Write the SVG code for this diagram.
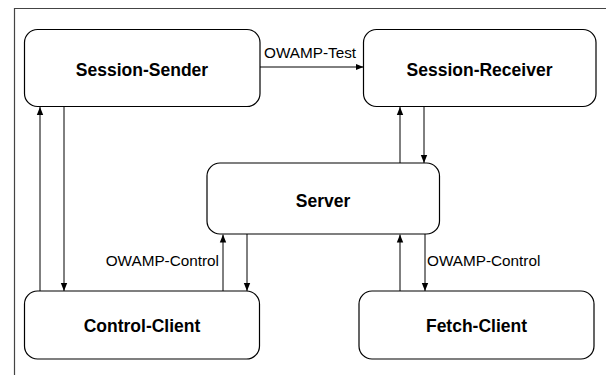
<svg xmlns="http://www.w3.org/2000/svg" width="606" height="375" viewBox="0 0 606 375">
<defs>
<marker id="ah" viewBox="0 0 8 8" refX="8" refY="4" markerWidth="8" markerHeight="8" markerUnits="userSpaceOnUse" orient="auto">
<path d="M0,0.8 L8,4 L0,7.2 Z" fill="#000"/>
</marker>
<style>
.node rect{fill:#fff;stroke:#000;stroke-width:1.2}
.node text{font-family:"Liberation Sans",Arial,sans-serif;font-weight:bold;font-size:17.5px;text-anchor:middle;fill:#000}
.lbl{font-family:"Liberation Sans",Arial,sans-serif;font-size:15.3px;fill:#000}
#connectors line{stroke:#000;stroke-width:1;marker-end:url(#ah)}
</style>
</defs>
<rect width="606" height="375" fill="#fff"/>
<path d="M14.5,375 V8.5 H606" fill="none" stroke="#444" stroke-width="1.2"/>
<g id="session-sender" class="node">
<rect x="24.5" y="29.5" width="235.5" height="77" rx="13"/>
<text x="142" y="76">Session-Sender</text>
</g>
<g id="session-receiver" class="node">
<rect x="363.5" y="29.5" width="232.5" height="77" rx="13"/>
<text x="479.5" y="76">Session-Receiver</text>
</g>
<g id="server" class="node">
<rect x="207" y="163" width="232.5" height="71" rx="13"/>
<text x="323" y="206.5">Server</text>
</g>
<g id="control-client" class="node">
<rect x="24.5" y="291" width="235" height="68" rx="13"/>
<text x="142" y="332">Control-Client</text>
</g>
<g id="fetch-client" class="node">
<rect x="359" y="291" width="235" height="68" rx="13"/>
<text x="476.5" y="332">Fetch-Client</text>
</g>
<g id="connectors">
<line x1="260" y1="67" x2="363.5" y2="67"/>
<line x1="40" y1="291" x2="40" y2="107"/>
<line x1="64" y1="106.5" x2="64" y2="291"/>
<line x1="400" y1="163" x2="400" y2="107"/>
<line x1="424" y1="106.5" x2="424" y2="163"/>
<line x1="223" y1="291" x2="223" y2="234.5"/>
<line x1="247" y1="234" x2="247" y2="291"/>
<line x1="400" y1="291" x2="400" y2="234.5"/>
<line x1="425" y1="234" x2="425" y2="291"/>
</g>
<text class="lbl" x="264" y="58">OWAMP-Test</text>
<text class="lbl" x="219" y="266" text-anchor="end">OWAMP-Control</text>
<text class="lbl" x="427" y="266">OWAMP-Control</text>
</svg>
